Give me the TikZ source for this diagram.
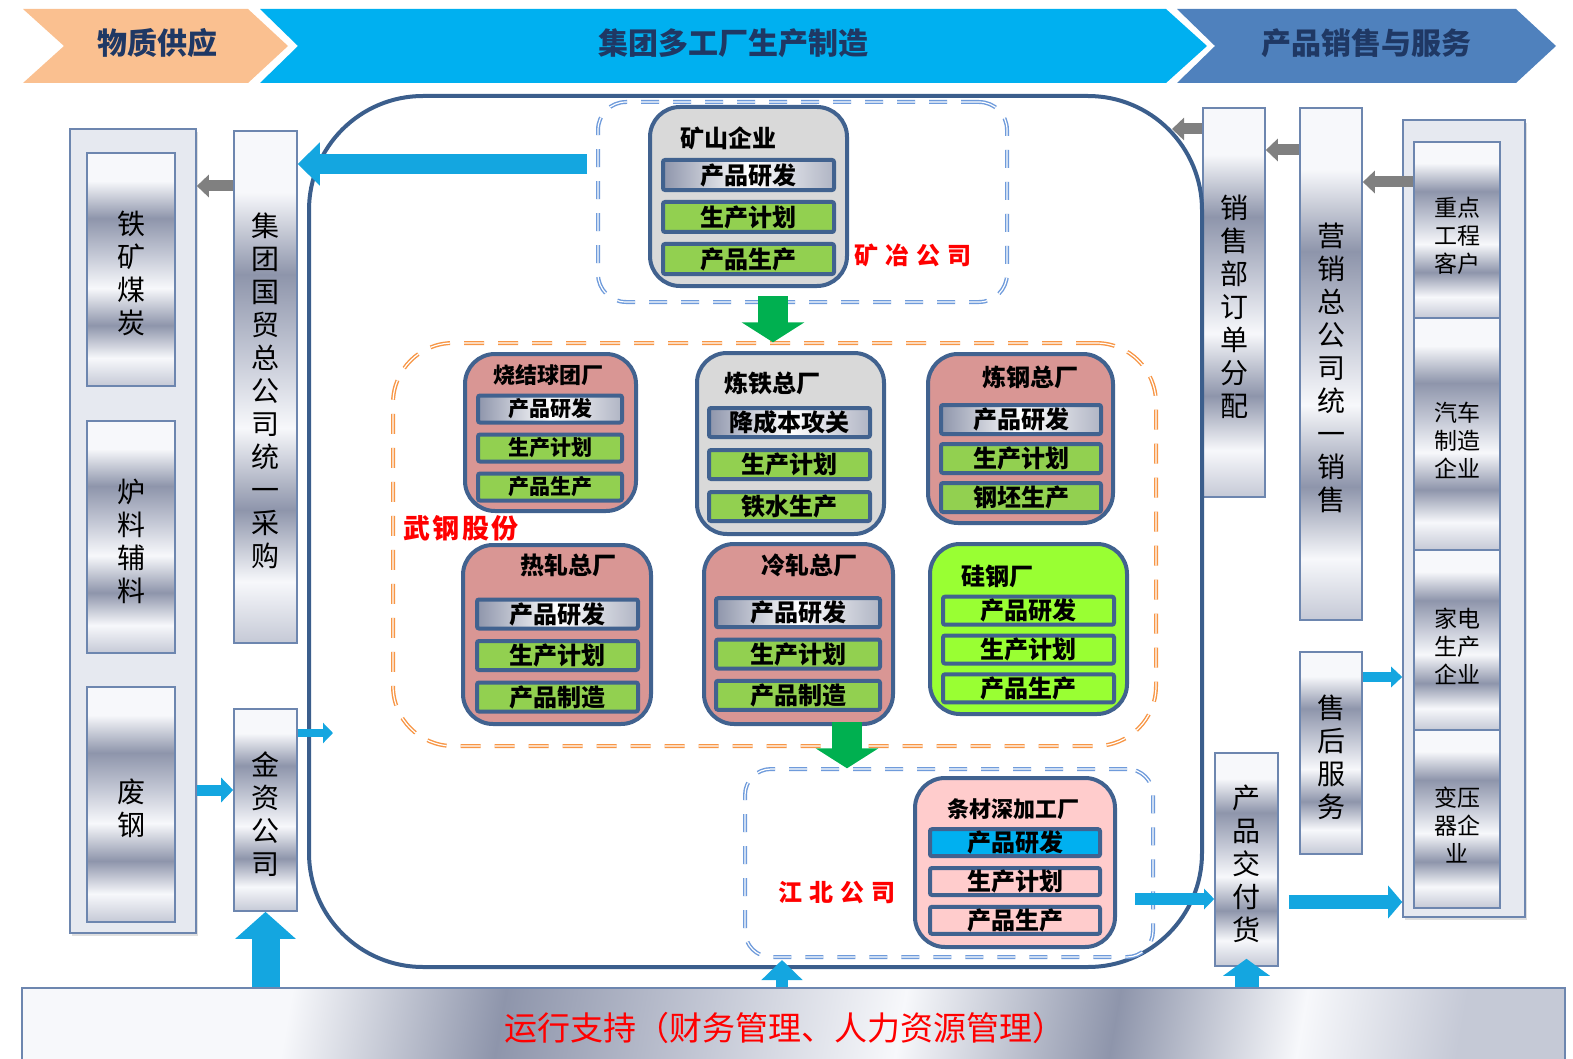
\documentclass[tikz,border=0pt]{standalone}
\usepackage{fontspec}
\setmainfont{Noto Sans CJK SC}
\newfontfamily\compfont[LetterSpace=30]{Noto Sans CJK SC}
\newfontfamily\brandfont[LetterSpace=8]{Noto Sans CJK SC}
\usetikzlibrary{arrows.meta,fit,matrix,shadows}

\definecolor{peach}{HTML}{FAC090}
\definecolor{skyband}{HTML}{00B0F0}
\definecolor{steelband}{HTML}{4F81BD}
\definecolor{navytext}{HTML}{1F3864}
\definecolor{frameblue}{HTML}{3B5E8C}
\definecolor{boxblue}{HTML}{41628F}
\definecolor{plantgray}{HTML}{D9D9D9}
\definecolor{plantrose}{HTML}{D99694}
\definecolor{plantpink}{HTML}{FFCCCC}
\definecolor{leafgreen}{HTML}{92D050}
\definecolor{limegreen}{HTML}{99FF33}
\definecolor{dashblue}{HTML}{6F9BDB}
\definecolor{dashorange}{HTML}{F79646}
\definecolor{arrowgreen}{HTML}{00B050}
\definecolor{arrowblue}{HTML}{14A6E0}
\definecolor{arrowgray}{HTML}{808080}
\definecolor{barline}{HTML}{6D86AF}
\definecolor{panelfill}{HTML}{E6E9F0}
\definecolor{mtA}{HTML}{F7F8FB}
\definecolor{mtB}{HTML}{8E95AB}
\definecolor{mtC}{HTML}{C5C9D6}

\pgfdeclareverticalshading{metal}{100bp}{color(0bp)=(mtC); color(25bp)=(mtC); color(31bp)=(mtA); color(38bp)=(mtB); color(46bp)=(mtA); color(53bp)=(mtC); color(61bp)=(mtB); color(69bp)=(mtA); color(75bp)=(mtA); color(100bp)=(mtA)}

\tikzset{
  phase/.style={text=navytext, font=\bfseries\fontsize{15}{17}\selectfont},
  vbar/.style={draw=barline, line width=0.8pt, shading=metal, inner sep=0pt},
  vtext/.style={align=center, inner sep=0pt, yshift=-2pt, font=\fontsize{14}{16.5}\selectfont},
  ctext/.style={align=center, inner sep=0pt, yshift=-3pt, font=\fontsize{11.5}{14}\selectfont},
  panel/.style={draw=barline, line width=0.8pt, fill=panelfill, inner sep=0pt,
                drop shadow={opacity=0.25, shadow xshift=1pt, shadow yshift=-1.5pt}},
  supportbar/.style={draw=barline, line width=0.8pt, shading=metal, shading angle=80, inner sep=0pt},
  dashb/.style={draw=dashblue, double=white, double distance=0.6pt, line width=0.7pt,
                dash pattern=on 9pt off 7pt, rounded corners=14pt, inner sep=0pt},
  dasho/.style={draw=dashorange, double=white, double distance=0.6pt, line width=0.7pt,
                dash pattern=on 10pt off 7pt, rounded corners=30pt, inner sep=0pt},
  plant/.style={draw=boxblue, line width=2pt, rounded corners=15pt, inner sep=0pt},
  title/.style={font=\bfseries\fontsize{12}{14}\selectfont},
  items/.style={matrix of nodes, row sep=#1,
     nodes={draw=boxblue, line width=2pt, fill=leafgreen, rounded corners=1pt, inner sep=0pt,
            font=\bfseries\fontsize{12}{14}\selectfont, anchor=center}},
  silver/.style={left color=mtB, right color=mtB!70, middle color=white},
  complabel/.style={text=red, font=\compfont\bfseries\fontsize{12}{14}\selectfont},
  garrow/.style={draw=arrowgray, line width=5.5pt, -{Triangle[length=6pt,width=11pt]}},
  barrow/.style={draw=arrowblue},
  greenarrow/.style={draw=arrowgreen, line width=15pt, -{Triangle[length=10pt,width=31pt]}}
}

\begin{document}
\begin{tikzpicture}[x=0.5pt, y=-0.5pt]
\useasboundingbox (0,0) rectangle (1573,1059);

% phase banner
\fill[peach] (23,9) -- (248,9) -- (288,46) -- (248,83) -- (23,83) -- (64,46) -- cycle;
\fill[skyband] (260,9) -- (1166,9) -- (1207,46) -- (1166,83) -- (260,83) -- (298,46) -- cycle;
\fill[steelband] (1177,9) -- (1516,9) -- (1556,46) -- (1516,83) -- (1177,83) -- (1215,46) -- cycle;
\node[phase] (ph1) at (157,43) {物质供应};
\node[phase] (ph2) at (733,43) {集团多工厂生产制造};
\node[phase] (ph3) at (1366,43) {产品销售与服务};

% supply side
\node[panel, fit={(70,129) (196,933)}] (matl) {};
\node[vbar, fit={(87,153) (175,386)}] (ore) {};
\node[vbar, fit={(87,421) (175,653)}] (flux) {};
\node[vbar, fit={(87,687) (175,922)}] (scrap) {};
\node[vbar, fit={(234,131) (297,643)}] (buy) {};
\node[vbar, fit={(234,709) (297,911)}] (jinzi) {};
\node[vtext] (oret) at (ore) {铁\\矿\\煤\\炭};
\node[vtext] (fluxt) at (flux) {炉\\料\\辅\\料};
\node[vtext] (scrapt) at (scrap) {废\\钢};
\node[vtext] (buyt) at (buy) {集\\团\\国\\贸\\总\\公\\司\\统\\一\\采\\购};
\node[vtext] (jinzit) at (jinzi) {金\\资\\公\\司};

% sales side
\node[vbar, fit={(1203,108) (1265,497)}] (order) {};
\node[vbar, fit={(1300,108) (1362,620)}] (market) {};
\node[vbar, fit={(1300,652) (1362,854)}] (service) {};
\node[vbar, fit={(1215,753) (1278,966)}] (deliver) {};
\node[vtext] (ordert) at (order) {销\\售\\部\\订\\单\\分\\配};
\node[vtext] (markett) at (market) {营\\销\\总\\公\\司\\统\\一\\销\\售};
\node[vtext] (servicet) at (service) {售\\后\\服\\务};
\node[vtext] (delivert) at (deliver) {产\\品\\交\\付\\货};
\node[panel, fit={(1403,120) (1525,917)}] (client) {};
\node[vbar, fit={(1414,142) (1500,318)}] (cl1) {};
\node[vbar, fit={(1414,318) (1500,550)}] (cl2) {};
\node[vbar, fit={(1414,550) (1500,730)}] (cl3) {};
\node[vbar, fit={(1414,730) (1500,908)}] (cl4) {};
\node[ctext] (cl1t) at (cl1) {重点\\工程\\客户};
\node[ctext] (cl2t) at (cl2) {汽车\\制造\\企业};
\node[ctext] (cl3t) at (cl3) {家电\\生产\\企业};
\node[ctext] (cl4t) at (cl4) {变压\\器企\\业};

% operation support
\node[supportbar, fit={(22,988) (1565,1066)}] (support) {};
\node[text=red, font=\fontsize{16.5}{18}\selectfont] (supportlbl) at (785,1028) {运行支持（财务管理、人力资源管理）};

% group works
\node[draw=frameblue, line width=2pt, rounded corners=57pt, inner sep=0pt, fit={(309,96) (1202,967)}] (works) {};
\node[dashb, fit={(598,102) (1007,302)}] (kuangye) {};
\node[dasho, fit={(393,343) (1156,746)}] (wisco) {};
\node[dashb, rounded corners=13pt, fit={(745,769) (1153,957)}] (jiangbei) {};

% mine
\node[plant, fill=plantgray, fit={(650,107) (847,286)}] (mine) {};
\node[title] (minet) at (728,138) {矿山企业};
\matrix (mi) [items=4pt, nodes={minimum width=85.5pt, minimum height=15pt},
  row 1/.style={nodes={silver}}] at (748.5,217) {产品研发\\生产计划\\产品生产\\};
\node[complabel] (kylbl) at (913,255) {矿冶公司};

% wisco plants
\node[plant, fill=plantrose, fit={(465,354) (636,511)}] (sinter) {};
\node[title, font=\bfseries\fontsize{11}{13}\selectfont] (sintert) at (548,375) {烧结球团厂};
\matrix (sj) [items=4pt, nodes={minimum width=72pt, minimum height=13.5pt, font=\bfseries\fontsize{10.5}{12}\selectfont},
  row 1/.style={nodes={silver}}] at (550,448) {产品研发\\生产计划\\产品生产\\};

\node[plant, fill=plantgray, fit={(697,353) (884,534)}] (iron) {};
\node[title] (iront) at (772,383) {炼铁总厂};
\matrix (lt) [items=4.5pt, nodes={minimum width=80.5pt, minimum height=14.5pt},
  row 1/.style={nodes={silver}}] at (789.5,464.5) {降成本攻关\\生产计划\\铁水生产\\};

\node[plant, fill=plantrose, fit={(928,354) (1113,523)}] (steel) {};
\node[title] (steelt) at (1030,377) {炼钢总厂};
\matrix (lg) [items=3pt, nodes={minimum width=80pt, minimum height=14.5pt},
  row 1/.style={nodes={silver}}] at (1021,458.5) {产品研发\\生产计划\\钢坯生产\\};

\node[text=red, font=\brandfont\bfseries\fontsize{13.5}{15}\selectfont] (wglbl) at (461,528) {武钢股份};

\node[plant, fill=plantrose, fit={(463,545) (651,724)}] (hot) {};
\node[title] (hott) at (568,565) {热轧总厂};
\matrix (rz) [items=4.25pt, nodes={minimum width=80.5pt, minimum height=14.5pt},
  row 1/.style={nodes={silver}}] at (557.5,655.5) {产品研发\\生产计划\\产品制造\\};

\node[plant, fill=plantrose, fit={(704,544) (893,724)}] (cold) {};
\node[title] (coldt) at (809,565) {冷轧总厂};
\matrix (lz) [items=4.15pt, nodes={minimum width=82pt, minimum height=14.5pt},
  row 1/.style={nodes={silver}}] at (798,654) {产品研发\\生产计划\\产品制造\\};

\node[plant, fill=limegreen, fit={(930,544) (1127,714)}] (silicon) {};
\node[title] (silicont) at (997,576) {硅钢厂};
\matrix (gg) [items=3.4pt, nodes={minimum width=85.5pt, minimum height=14pt, fill=limegreen}]
  at (1028.5,649.5) {产品研发\\生产计划\\产品生产\\};

% jiangbei
\node[plant, fill=plantpink, fit={(915,778) (1115,947)}] (barmill) {};
\node[title, font=\bfseries\fontsize{11}{13}\selectfont] (barmillt) at (1013,809) {条材深加工厂};
\matrix (tc) [items=3.9pt, nodes={minimum width=85pt, minimum height=13.5pt, fill=plantpink},
  row 1/.style={nodes={fill=skyband}}] at (1015,881.5) {产品研发\\生产计划\\产品生产\\};
\node[complabel] (jblbl) at (837,893) {江北公司};

% flows
\coordinate (feed) at (587,164);
\coordinate (lvbuy) at (0,186);
\coordinate (lvscrap) at (0,790);
\coordinate (jzout) at (333,733);
\coordinate (upmid) at (782,960);
\coordinate (jbout) at (1135,899);
\coordinate (lvdel) at (0,902);
\coordinate (lvsvc) at (0,677);
\coordinate (ordout) at (1172,129);
\coordinate (lvmkt) at (0,150);
\coordinate (lvcl) at (0,182);
\coordinate (dn1) at (773,296);
\coordinate (dn2) at (847,722);

\draw[barrow, line width=10pt, -{Triangle[length=11pt,width=21pt]}] (feed) -- (feed -| buy.east);
\draw[garrow] (buy.west |- lvbuy) -- (matl.east |- lvbuy);
\draw[barrow, line width=5.5pt, -{Triangle[length=6pt,width=12pt]}] (matl.east |- lvscrap) -- (jinzi.west |- lvscrap);
\draw[barrow, line width=4pt, -{Triangle[length=5pt,width=10pt]}] (jinzi.east |- jzout) -- (jzout);
\draw[barrow, line width=14pt, -{Triangle[length=13.5pt,width=29.5pt]}] (jinzi.south |- support.north) -- (jinzi.south);
\draw[barrow, line width=6pt, -{Triangle[length=10pt,width=20pt]}] (upmid |- support.north) -- (upmid);
\draw[barrow, line width=12pt, -{Triangle[length=8.5pt,width=23pt]}] (deliver.south |- support.north) -- ([yshift=4pt]deliver.south);
\draw[barrow, line width=6pt, -{Triangle[length=5pt,width=10pt]}] (jbout) -- (jbout -| deliver.west);
\draw[barrow, line width=7pt, -{Triangle[length=7pt,width=16pt]}, shorten <=5pt] (deliver.east |- lvdel) -- (client.west |- lvdel);
\draw[barrow, line width=5pt, -{Triangle[length=5.5pt,width=10pt]}] (service.east |- lvsvc) -- (client.west |- lvsvc);
\draw[garrow] (order.west |- ordout) -- (ordout);
\draw[garrow] (market.west |- lvmkt) -- (order.east |- lvmkt);
\draw[garrow] (cl1.west |- lvcl) -- (market.east |- lvcl);
\draw[greenarrow] (dn1) -- (dn1 |- wisco.north);
\draw[greenarrow] (dn2) -- (dn2 |- jiangbei.north);
\end{tikzpicture}
\end{document}
